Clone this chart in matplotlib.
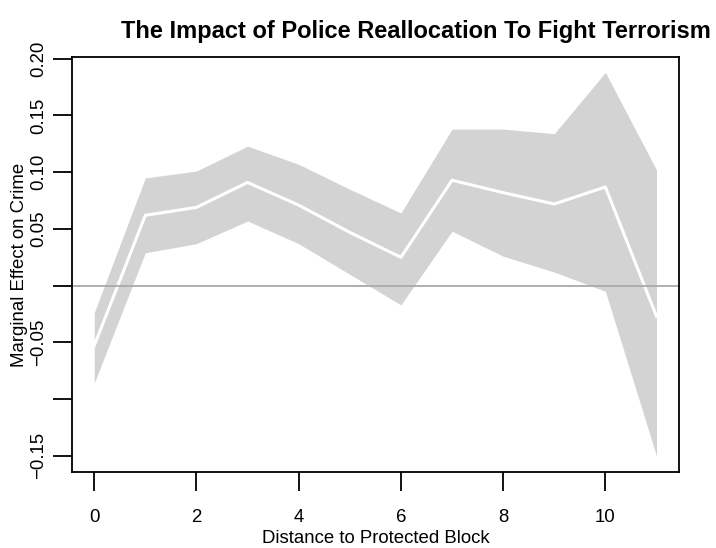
import matplotlib
matplotlib.use("Agg")
import matplotlib.pyplot as plt

plt.rcParams['font.family'] = ['Liberation Sans', 'DejaVu Sans']

# marginal effect by distance, with confidence band
distance = [0, 1, 2, 3, 4, 5, 6, 7, 8, 9, 10, 11]
effect = [-0.053, 0.062, 0.069, 0.091, 0.071, 0.047, 0.025, 0.093, 0.082, 0.072, 0.087, -0.027]
upper = [-0.024, 0.095, 0.101, 0.123, 0.107, 0.085, 0.064, 0.138, 0.138, 0.134, 0.188, 0.102]
lower = [-0.086, 0.029, 0.037, 0.057, 0.037, 0.010, -0.017, 0.048, 0.026, 0.012, -0.005, -0.150]

xticks = [0, 2, 4, 6, 8, 10]
yticks = [-0.15, -0.10, -0.05, 0.0, 0.05, 0.10, 0.15, 0.20]
ylabels = ['\u22120.15', '', '\u22120.05', '', '0.05', '0.10', '0.15', '0.20']

W, H = 716, 548
fs = 13.4
fig = plt.figure(figsize=(W / 100, H / 100), dpi=100)
ax = fig.add_axes([71.7 / W, 1 - 472.3 / H, (679 - 71.7) / W, (472.3 - 57.3) / H])

ax.fill_between(distance, lower, upper, color='#d3d3d3', linewidth=0)
ax.plot(distance, effect, color='white', lw=2.2)
ax.axhline(0, color='#a9a9a9', lw=1.3)

ax.set_xlim(-0.44, 11.44)
ax.set_ylim(-0.1645, 0.2013)

for s in ax.spines.values():
    s.set_linewidth(1.3)
    s.set_color('black')

ax.set_xticks(xticks)
ax.set_xticklabels([str(t) for t in xticks])
ax.set_yticks(yticks)
ax.set_yticklabels(ylabels)
ax.tick_params(axis='both', length=13.7, width=1.3, labelsize=fs, color='black')
ax.tick_params(axis='x', pad=22.3)
ax.tick_params(axis='y', pad=10)
for lab in ax.get_xticklabels():
    lab.set_verticalalignment('baseline')
for lab in ax.get_yticklabels():
    lab.set_rotation(90)
    lab.set_horizontalalignment('center')
    lab.set_verticalalignment('center')

fig.text(376 / W, 1 - 543 / H, 'Distance to Protected Block', ha='center', va='baseline', fontsize=fs)
fig.text(20 / W, 1 - 265 / H, 'Marginal Effect on Crime', rotation=90, ha='center', va='center', fontsize=fs)
fig.text(416 / W, 1 - 38 / H, 'The Impact of Police Reallocation To Fight Terrorism',
         ha='center', va='baseline', fontsize=17, fontweight='bold')

fig.savefig('out.png', dpi=100)
